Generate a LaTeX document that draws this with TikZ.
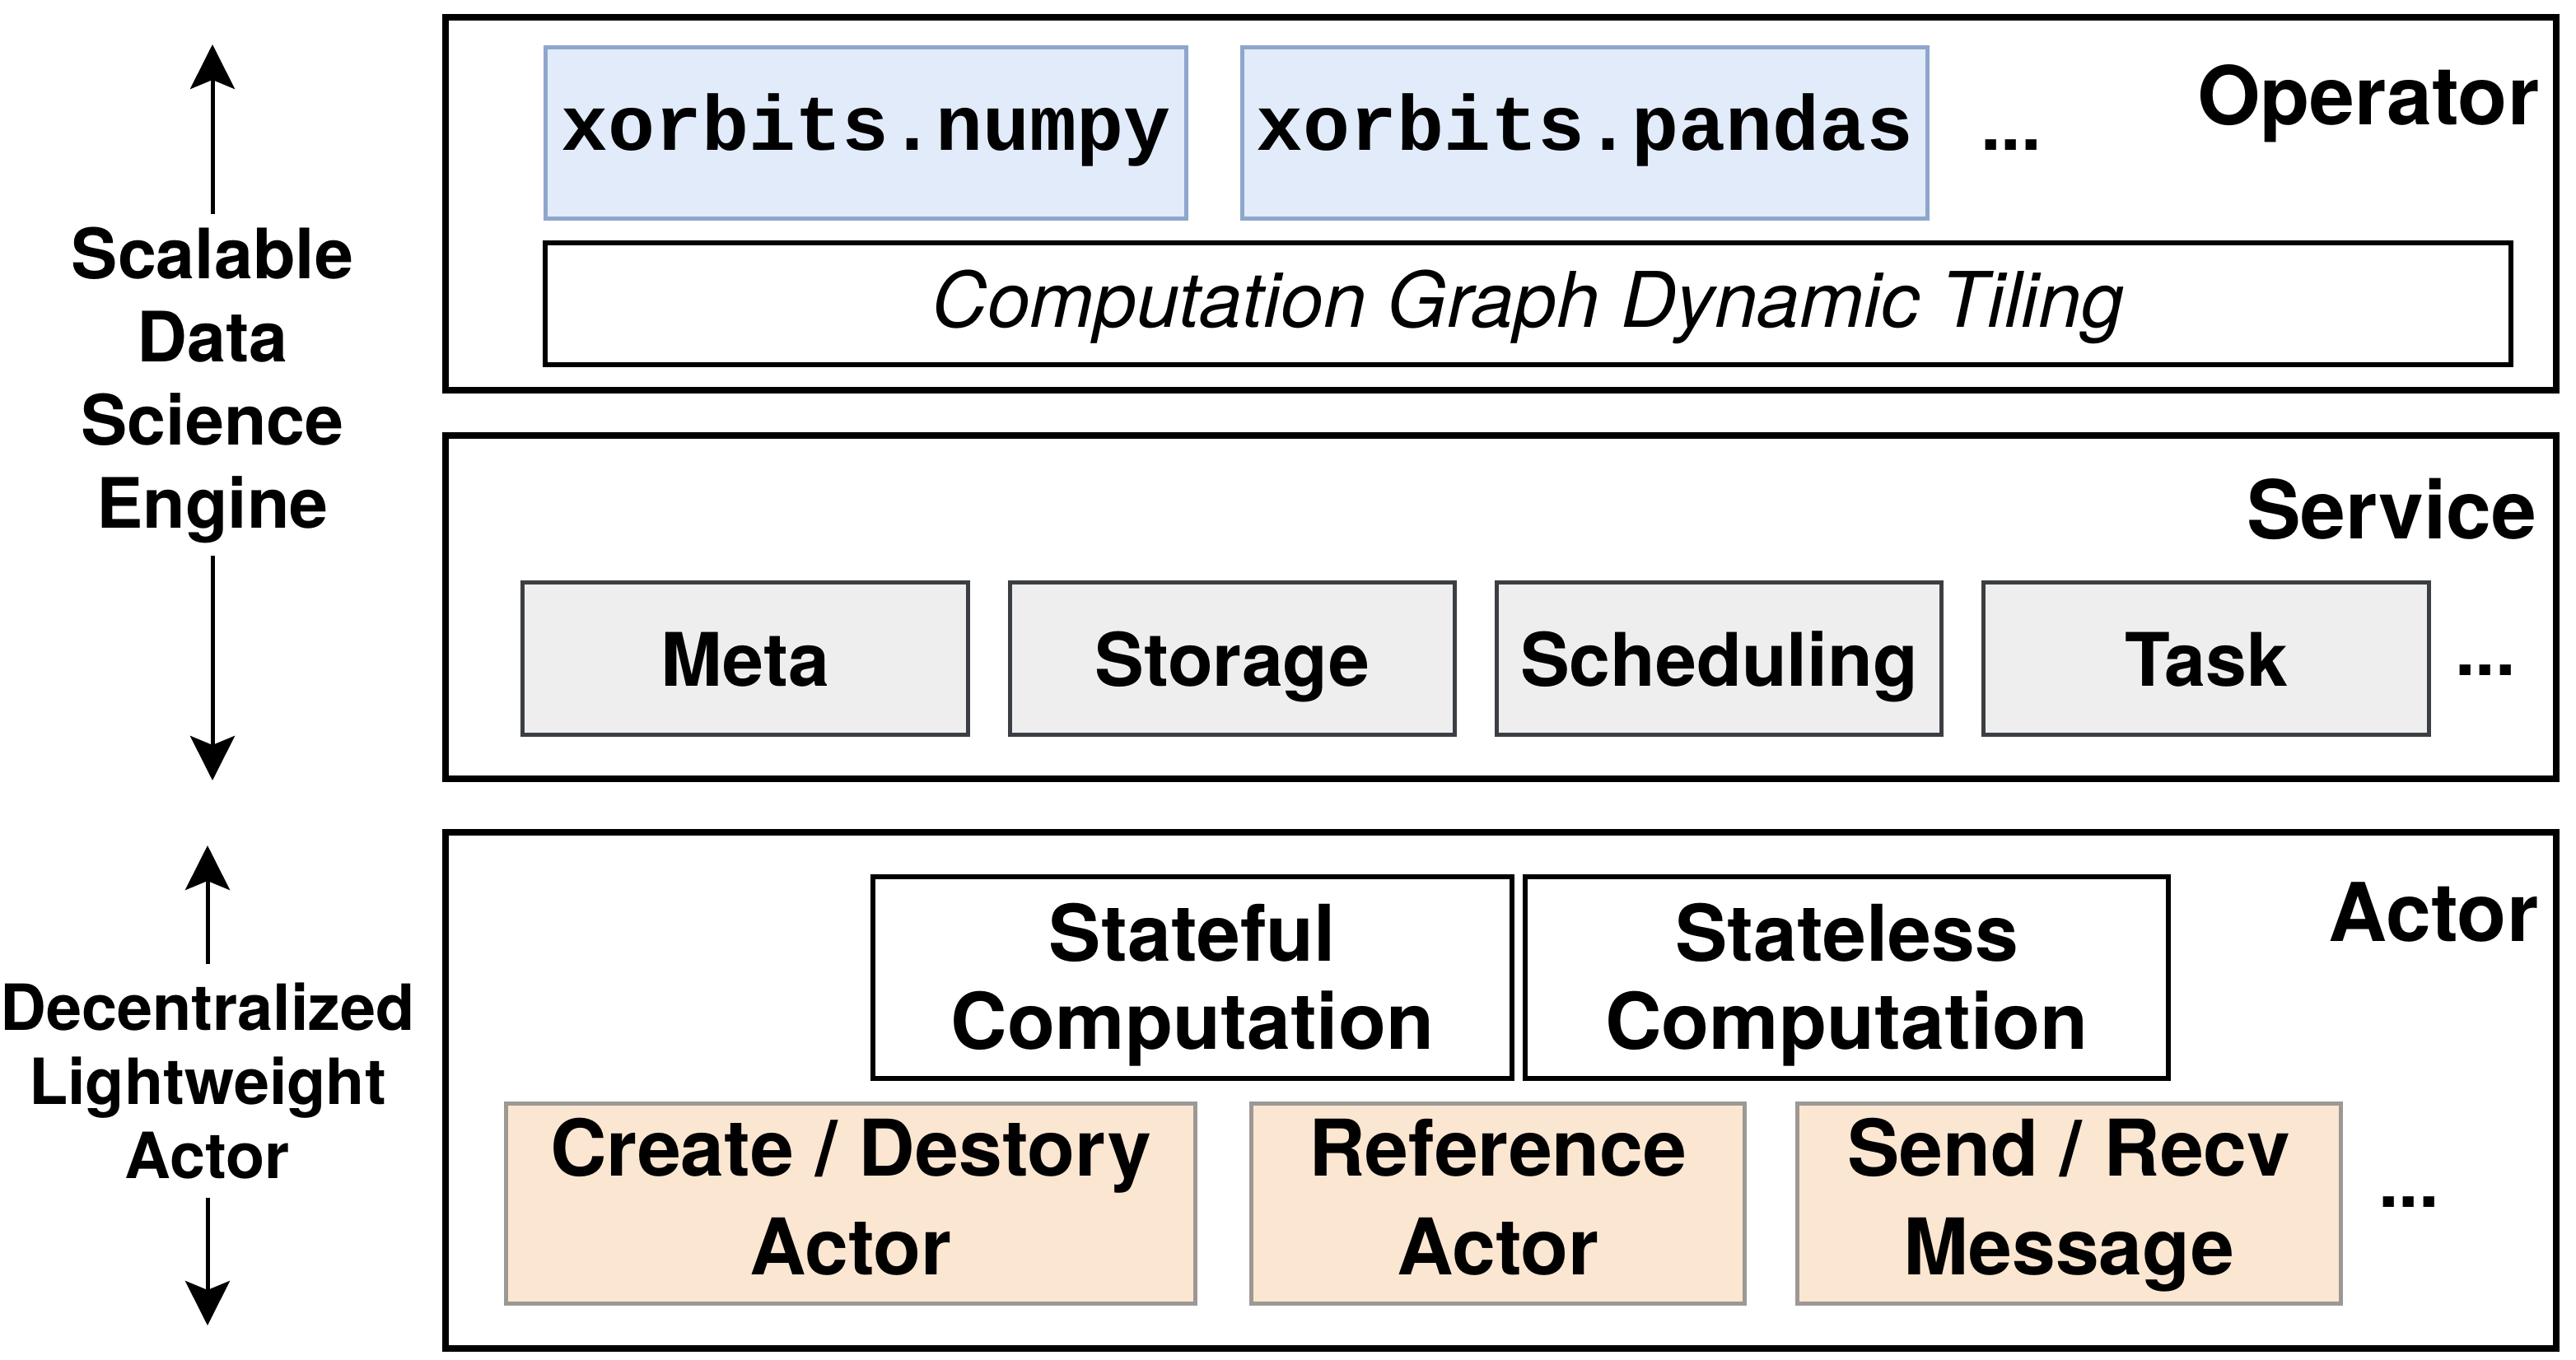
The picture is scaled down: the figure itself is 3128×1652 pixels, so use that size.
\documentclass[tikz,border=0pt]{standalone}
\usepackage{fontspec}
\setmainfont{TeX Gyre Heros}
\setmonofont{Liberation Mono}
\usetikzlibrary{arrows.meta, positioning}

\definecolor{libfill}{HTML}{E1EBF9}
\definecolor{libline}{HTML}{8EA6CC}
\definecolor{svcfill}{HTML}{EEEEEE}
\definecolor{svcline}{HTML}{3B3E42}
\definecolor{actfill}{HTML}{FAE6D1}
\definecolor{actline}{HTML}{9C9894}

\newcommand{\fsz}[2]{\fontsize{#1}{#2}\selectfont}

\begin{document}
\begin{tikzpicture}[x=0.01cm, y=-0.01cm, >={Stealth[length=0.54cm, width=0.54cm, inset=0.11cm]}, node distance=0.5cm]
	\tikzstyle{layer} = [draw, line width=0.08cm]
	\tikzstyle{title} = [font=\bfseries\fsz{28}{34}, inner sep=0pt, anchor=base east]
	\tikzstyle{dots} = [font=\bfseries\fsz{25}{30}, inner sep=0pt, anchor=base]
	\tikzstyle{box} = [draw, rectangle, inner sep=0pt, outer sep=0pt, align=center]
	\tikzstyle{lib} = [box, fill=libfill, draw=libline, line width=0.05cm, minimum height=2.07cm, font=\ttfamily\bfseries\fsz{27}{30}, text height=0.61cm, text depth=0.2cm]
	\tikzstyle{tiling} = [box, line width=0.06cm, minimum height=1.48cm, font=\itshape\fsz{26.5}{30}, text height=0.76cm, text depth=0.2cm]
	\tikzstyle{svc} = [box, fill=svcfill, draw=svcline, line width=0.05cm, minimum width=5.40cm, minimum height=1.84cm, font=\bfseries\fsz{25.5}{30}, text height=0.86cm, text depth=0.2cm]
	\tikzstyle{comp} = [box, line width=0.06cm, minimum height=2.45cm, font=\bfseries\fsz{27}{30.4}, text height=1.93cm, text depth=0.2cm]
	\tikzstyle{prim} = [box, fill=actfill, draw=actline, line width=0.05cm, minimum height=2.42cm, font=\bfseries\fsz{27}{34.1}, text height=1.92cm, text depth=0.2cm]
	\tikzstyle{side} = [inner sep=0pt, anchor=north, align=center]
	\tikzstyle{axis} = [->, line width=0.05cm]

	\useasboundingbox (0,0) rectangle (3128,1652);

	% layers
	\draw[layer] (541,21) rectangle (3104,474);
	\draw[layer] (541,529) rectangle (3104,946);
	\draw[layer] (541,1011) rectangle (3104,1638);

	% operator
	\begin{scope}
		\path
			node[lib, minimum width=7.77cm] (numpy) at (1051.5,161.5) {xorbits.numpy}
			node[lib, minimum width=8.32cm, right=0.68cm of numpy] (pandas) {xorbits.pandas}
			node[dots] (opdots) at (2442,183) {...}
			node[title] (optitle) at (3084,152) {Operator}
			node[tiling, minimum width=23.85cm] (tiling) at (1855.5,369) {Computation Graph Dynamic Tiling}
		;
	\end{scope}

	% service
	\begin{scope}
		\path
			node[title] (svctitle) at (3081,654) {Service}
			node[svc] (meta) at (905,800) {Meta}
			node[svc, right=0.51cm of meta] (storage) {Storage}
			node[svc, right=0.51cm of storage] (scheduling) {Scheduling}
			node[svc, right=0.51cm of scheduling] (task) {Task}
			node[dots] (svcdots) at (3018,820) {...}
		;
	\end{scope}

	% actor
	\begin{scope}
		\path
			node[title] (acttitle) at (3083,1143) {Actor}
			node[comp, minimum width=7.76cm] (stateful) at (1448,1187.5) {Stateful\\Computation}
			node[comp, minimum width=7.80cm, right=0.16cm of stateful] (stateless) {Stateless\\Computation}
			node[prim, minimum width=8.36cm] (create) at (1033,1462) {Create / Destory\\Actor}
			node[prim, minimum width=5.99cm, right=0.68cm of create] (reference) {Reference\\Actor}
			node[prim, minimum width=6.59cm, right=0.64cm of reference] (send) {Send / Recv\\Message}
			node[dots] (actdots) at (2925,1466) {...}
		;
	\end{scope}

	% side labels
	\node[side, inner sep=0.15cm, font=\bfseries\fsz{24}{28.7}] (engine) at (258,260) {Scalable\\Data\\Science\\Engine};
	\coordinate (engineup) at (258,54);
	\coordinate (enginedown) at (258,948);
	\draw[axis] (engine.north) -- (engineup);
	\draw[axis] (engine.south) -- (enginedown);

	\node[side, inner sep=0.22cm, font=\bfseries\fsz{22}{25.6}] (light) at (252,1171) {Decentralized\\Lightweight\\Actor};
	\coordinate (lightup) at (252,1027);
	\coordinate (lightdown) at (252,1610);
	\draw[axis] (light.north) -- (lightup);
	\draw[axis] (light.south) -- (lightdown);
\end{tikzpicture}
\end{document}
